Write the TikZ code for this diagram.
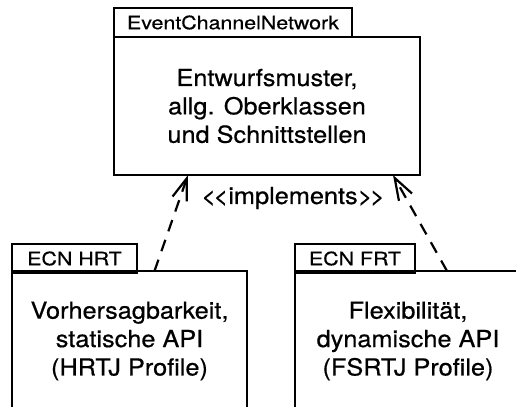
\documentclass[tikz,border=0pt]{standalone}
\usepackage{fontspec}
\setmainfont{TeX Gyre Heros}
\newfontfamily\tabfont[FakeStretch=1.16,FakeBold=0.6]{TeX Gyre Heros}
\newfontfamily\boxfont[FakeStretch=1.08,FakeBold=0.6]{TeX Gyre Heros}
\usetikzlibrary{arrows.meta}
\begin{document}
\begin{tikzpicture}[x=1bp,y=-1bp,
    pkgtab/.style={draw, line width=2.6bp, outer sep=0pt, inner sep=0pt, minimum height=29bp, anchor=north west, font=\tabfont\fontsize{18.5}{21}\selectfont},
    pkgbody/.style={draw, line width=2.6bp, outer sep=0pt, inner sep=0pt, anchor=north west, align=center, font=\boxfont\fontsize{23.5}{28.5}\selectfont},
    realizes/.style={line width=2.2bp, dash pattern=on 12bp off 9bp, -{Straight Barb[length=22bp,width=15bp]}}]
            \useasboundingbox (0,0) rectangle (516,406);
            \clip (0,0) rectangle (516,406);

            % top package
            \node[pkgtab, minimum width=238bp] (ecntab) at (114,8) {EventChannelNetwork};
            \node[pkgbody, minimum width=306bp, minimum height=138bp] (ecn) at (114,37) {Entwurfsmuster,\\allg. Oberklassen\\und Schnittstellen};

            % hard real-time package
            \node[pkgtab, minimum width=125bp] (hrttab) at (12,244) {ECN HRT};
            \node[pkgbody, minimum width=235bp, minimum height=140bp] (hrt) at (12,271) {Vorhersagbarkeit,\\statische API\\(HRTJ Profile)};

            % flexible real-time package
            \node[pkgtab, minimum width=120bp] (frttab) at (295,244) {ECN FRT};
            \node[pkgbody, minimum width=226bp, minimum height=140bp] (frt) at (295,271) {Flexibilität,\\dynamische API\\(FSRTJ Profile)};

            \draw[realizes] ([xshift=25bp]hrt.north) -- ([xshift=-79bp]ecn.south);
            \draw[realizes] ([xshift=39bp]frt.north) -- ([xshift=126bp]ecn.south);
            \node[font=\boxfont\fontsize{23.5}{28.5}\selectfont] (impl) at (293,198) {<\kern-2.5bp<implements>\kern-2.5bp>};
        \end{tikzpicture}
\end{document}
